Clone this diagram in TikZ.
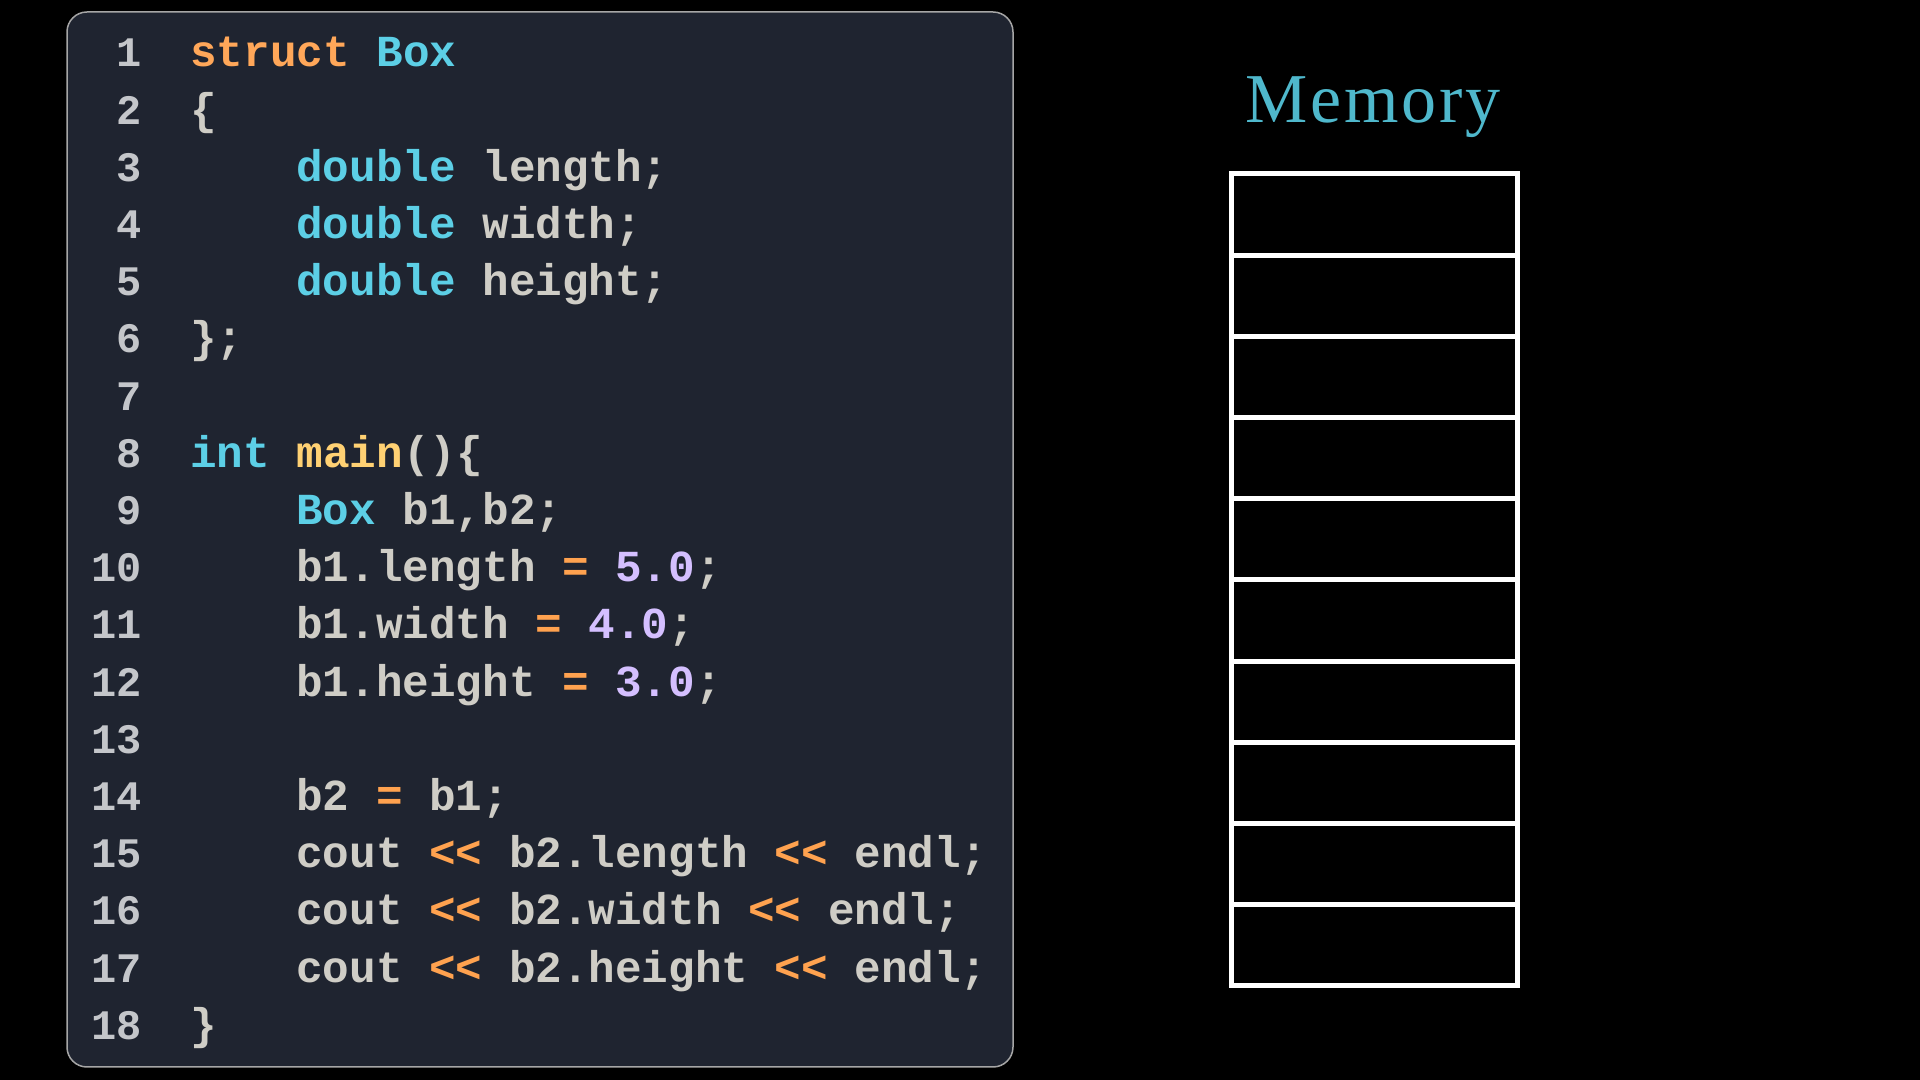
\documentclass[tikz,border=0pt]{standalone}
\usepackage{fontspec}
\setmonofont{Liberation Mono}
\newfontfamily\memfont[LetterSpace=4]{Liberation Serif}
\definecolor{panelbg}{HTML}{1F2430}
\definecolor{plain}{HTML}{CFCDC6}
\definecolor{kwcol}{HTML}{FFA759}
\definecolor{tycol}{HTML}{5CCFE6}
\definecolor{fncol}{HTML}{FFD173}
\definecolor{numcol}{HTML}{D4BFFF}
\definecolor{opcol}{HTML}{FFA24F}
\definecolor{lncol}{HTML}{C4C6CA}
\definecolor{memcol}{HTML}{4FB8CC}
\newcommand\kwd[1]{\textcolor{kwcol}{#1}}
\newcommand\typ[1]{\textcolor{tycol}{#1}}
\newcommand\fnc[1]{\textcolor{fncol}{#1}}
\newcommand\numc[1]{\textcolor{numcol}{#1}}
\newcommand\opr[1]{\textcolor{opcol}{#1}}
\begin{document}
\begin{tikzpicture}[x=0.5pt, y=0.5pt,
    codeline/.style={anchor=base west, inner sep=0pt, text=plain,
      font=\ttfamily\bfseries\fontsize{22.15}{28}\selectfont},
    lnum/.style={anchor=base east, inner sep=0pt, text=lncol,
      font=\ttfamily\bfseries\fontsize{21}{28}\selectfont},
    cell/.style={draw=white, line width=2.5pt, minimum width=143pt, minimum height=40.6pt, inner sep=0pt}]
  \useasboundingbox (0, 0) rectangle (1920, 1080);
  \fill [black] (0, 0) rectangle (1920, 1080);

  % code panel
  \draw [fill=panelbg, draw=gray!70, line width=0.75pt, rounded corners=10pt] (67, 1068) rectangle (1013, 13);

  \begin{scope}[yshift=-2pt]
  \foreach \n in {1,...,18}
    \node [lnum] (ln\n) at (142, {1017 - (\n-1)*57.2}) {\n};

  \node [codeline] (c1) at (190, 1017) {\kwd{struct} \typ{Box}};
  \node [codeline] (c2) at (190, 959.8) {\{};
  \node [codeline] (c3) at (296, 902.6) {\typ{double} length;};
  \node [codeline] (c4) at (296, 845.4) {\typ{double} width;};
  \node [codeline] (c5) at (296, 788.2) {\typ{double} height;};
  \node [codeline] (c6) at (190, 731) {\};};
  \node [codeline] (c8) at (190, 616.6) {\typ{int} \fnc{main}()\{};
  \node [codeline] (c9) at (296, 559.4) {\typ{Box} b1,b2;};
  \node [codeline] (c10) at (296, 502.2) {b1.length \opr{=} \numc{5.0};};
  \node [codeline] (c11) at (296, 445) {b1.width \opr{=} \numc{4.0};};
  \node [codeline] (c12) at (296, 387.8) {b1.height \opr{=} \numc{3.0};};
  \node [codeline] (c14) at (296, 273.4) {b2 \opr{=} b1;};
  \node [codeline] (c15) at (296, 216.2) {cout \opr{<<} b2.length \opr{<<} endl;};
  \node [codeline] (c16) at (296, 159) {cout \opr{<<} b2.width \opr{<<} endl;};
  \node [codeline] (c17) at (296, 101.8) {cout \opr{<<} b2.height \opr{<<} endl;};
  \node [codeline] (c18) at (190, 44.6) {\}};
  \end{scope}

  % memory
  \node [anchor=base, inner sep=0pt, text=memcol, font=\memfont\fontsize{35}{40}\selectfont] (mem) at (1373, 957) {Memory};
  \foreach \i in {0,...,9}
    \node [cell] (m\i) at (1374, {906 - 40.6 - \i*81.2}) {};
\end{tikzpicture}
\end{document}
